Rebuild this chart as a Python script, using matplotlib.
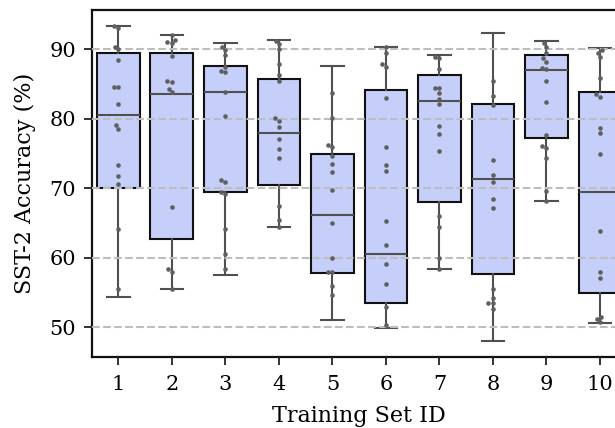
import numpy as np
import pandas as pd
import matplotlib
matplotlib.use('Agg')
import matplotlib.pyplot as plt
import seaborn as sns

# Training set ids (categories)
set_ids = ['1', '2', '3', '4', '5', '6', '7', '8', '9', '10']

# Individual run accuracies
runs = [
    [93.4, 93.1, 90.4, 90.0, 88.5, 84.6, 84.6, 82.1, 79.1, 78.5, 73.4, 71.7, 70.6, 64.2, 55.5],
    [92.0, 91.4, 91.0, 90.9, 89.0, 85.5, 85.3, 84.3, 83.8, 67.3, 58.4, 58.0, 55.5],
    [90.4, 89.9, 89.2, 87.5, 86.9, 86.7, 83.9, 80.4, 71.2, 70.9, 69.5, 69.2, 64.2, 60.6, 58.4],
    [91.2, 90.7, 90.0, 87.9, 86.3, 85.5, 80.1, 79.7, 78.8, 77.1, 75.7, 74.4, 67.4, 65.5, 64.5],
    [83.7, 80.1, 76.3, 76.0, 74.7, 73.5, 72.3, 69.7, 65.0, 60.0, 57.9, 57.9, 56.0, 54.7],
    [90.3, 89.5, 87.9, 87.5, 83.0, 75.9, 73.4, 72.5, 65.3, 61.9, 59.1, 56.3, 52.9, 50.3],
    [88.85, 88.7, 87.2, 84.5, 84.4, 83.7, 82.8, 82.1, 78.9, 77.8, 75.4, 66.05, 64.5, 60.0, 58.35],
    [85.4, 83.3, 82.0, 74.1, 71.9, 70.9, 68.5, 67.1, 55.5, 54.2, 53.45, 53.45, 52.7],
    [90.95, 90.4, 89.4, 88.7, 88.2, 87.3, 87.1, 85.5, 82.4, 77.6, 76.1, 75.75, 74.4, 69.6, 68.2],
    [89.9, 89.5, 88.9, 85.9, 83.5, 83.1, 78.7, 78.0, 75.0, 63.8, 57.9, 57.1, 51.5, 51.2, 50.7],
]

# Box statistics
q1 = [70.1, 62.7, 69.4, 70.5, 57.85, 53.45, 68.0, 57.7, 77.2, 54.9]
med = [80.55, 83.5, 83.9, 77.96, 66.1, 60.5, 82.5, 71.3, 87.0, 69.5]
q3 = [89.5, 89.4, 87.65, 85.7, 75.0, 84.2, 86.3, 82.1, 89.2, 83.8]
whis_lo = [54.3, 55.5, 57.5, 64.5, 51.05, 49.85, 58.35, 48.1, 68.2, 50.6]
whis_hi = [93.4, 92.0, 90.9, 91.4, 87.65, 90.4, 89.2, 92.4, 91.15, 90.2]

y_ticks = [50, 60, 70, 80, 90]

plt.rcParams['font.family'] = 'DejaVu Serif'

fig = plt.figure(figsize=(6.15, 4.28), dpi=100)
# right edge goes past the figure, the reference is cropped there
ax = fig.add_axes([0.149, 0.1666, 0.870, 0.810])

stats = []
for i in range(len(set_ids)):
    stats.append({'med': med[i], 'q1': q1[i], 'q3': q3[i],
                  'whislo': whis_lo[i], 'whishi': whis_hi[i],
                  'fliers': [], 'label': set_ids[i]})

ax.bxp(stats, positions=np.arange(len(set_ids)), widths=0.8,
       capwidths=0.42, patch_artist=True, showfliers=False,
       boxprops={'facecolor': '#c6cffa', 'edgecolor': '#111111', 'linewidth': 1.5},
       whiskerprops={'color': '#505050', 'linewidth': 1.5},
       capprops={'color': '#505050', 'linewidth': 1.5},
       medianprops={'color': '#505050', 'linewidth': 1.5})

rows = []
for sid, vals in zip(set_ids, runs):
    for v in vals:
        rows.append({'set': sid, 'acc': v})
df = pd.DataFrame(rows)

sns.swarmplot(data=df, x='set', y='acc', order=set_ids, color='#5f5f5f',
              size=3.3, ax=ax, zorder=4)

ax.set_axisbelow(False)
ax.yaxis.grid(True, linestyle='--', color='#bdbdbd', linewidth=1.5, zorder=3)
ax.xaxis.grid(False)

ax.set_xlim(-0.5, 9.5)
ax.set_ylim(45.77, 95.65)
ax.set_yticks(y_ticks)
ax.set_xticks(np.arange(len(set_ids)))
ax.set_xticklabels(set_ids)
ax.tick_params(labelsize=15, length=6, width=1.3, color='#222222', pad=5)
ax.tick_params(axis='x', pad=7)

ax.set_xlabel('Training Set ID', fontsize=16, labelpad=8)
ax.set_ylabel('SST-2 Accuracy (%)', fontsize=16, labelpad=10)

for sp in ax.spines.values():
    sp.set_linewidth(1.6)
    sp.set_color('#111111')

fig.savefig('out.png', dpi=100)
